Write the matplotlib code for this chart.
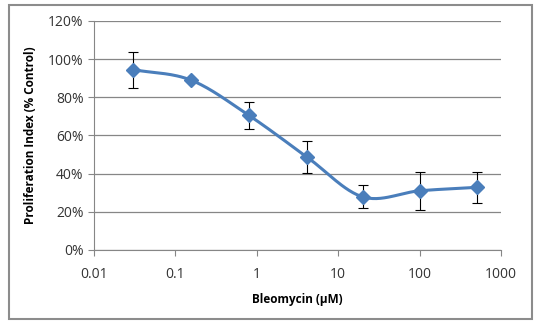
import numpy as np
import matplotlib
matplotlib.use("Agg")
import matplotlib.pyplot as plt
from matplotlib.patches import Rectangle

dose = [0.03, 0.155, 0.8, 4.1, 20, 100, 500]
prolif = [94.5, 89.0, 70.5, 48.8, 27.8, 31.0, 32.8]
err = [9.5, 0.0, 7.0, 8.5, 6.0, 10.0, 8.0]
yticks = [0, 20, 40, 60, 80, 100, 120]
xticks = [0.01, 0.1, 1, 10, 100, 1000]
xticklabels = ["0.01", "0.1", "1", "10", "100", "1000"]

BLUE = "#4A7EBB"
GRAY = "#868686"


def catmull_rom(xs, ys, n=30):
    # smooth curve through points, like Excel's smoothed line
    px = np.concatenate([[2 * xs[0] - xs[1]], xs, [2 * xs[-1] - xs[-2]]])
    py = np.concatenate([[2 * ys[0] - ys[1]], ys, [2 * ys[-1] - ys[-2]]])
    out_x, out_y = [], []
    for i in range(1, len(px) - 2):
        t = np.linspace(0, 1, n)
        for p, out in ((px, out_x), (py, out_y)):
            p0, p1, p2, p3 = p[i - 1], p[i], p[i + 1], p[i + 2]
            out.extend(0.5 * ((2 * p1) + (-p0 + p2) * t
                              + (2 * p0 - 5 * p1 + 4 * p2 - p3) * t ** 2
                              + (-p0 + 3 * p1 - 3 * p2 + p3) * t ** 3))
    return np.array(out_x), np.array(out_y)


plt.rcParams["font.family"] = ["Open Sans", "DejaVu Sans"]

fig = plt.figure(figsize=(5.44, 3.28), dpi=100)
fig.patches.append(Rectangle((0.016, 0.028), 0.962, 0.957, transform=fig.transFigure,
                             fill=False, edgecolor="#8c8c8c", linewidth=1.5))
ax = fig.add_axes([0.173, 0.238, 0.748, 0.698])

lx = np.log10(dose)
sx, sy = catmull_rom(lx, np.array(prolif) / 6.0)
ax.plot(10 ** sx, sy * 6.0, color=BLUE, linewidth=2.2, zorder=3)
ax.errorbar(dose, prolif, yerr=err, fmt="none", ecolor="black", elinewidth=0.8,
            capsize=3.5, capthick=0.8, zorder=2)
ax.plot(dose, prolif, linestyle="none", marker="D", markersize=7,
        color=BLUE, zorder=4)

ax.set_xscale("log")
ax.set_xlim(0.01, 1000)
ax.set_ylim(0, 120)
ax.set_xticks(xticks)
ax.set_xticklabels(xticklabels)
ax.xaxis.set_minor_locator(matplotlib.ticker.NullLocator())
ax.set_yticks(yticks)
ax.set_yticklabels([f"{v}%" for v in yticks])
ax.grid(axis="y", color=GRAY, linewidth=0.9)
ax.set_axisbelow(True)
for s in ["top", "right"]:
    ax.spines[s].set_visible(False)
for s in ["left", "bottom"]:
    ax.spines[s].set_color(GRAY)
ax.tick_params(colors=GRAY, length=4, labelsize=10, labelcolor="#333333")
ax.tick_params(axis="x", pad=8)

ax.set_xlabel("Bleomycin (µM)", fontsize=8.5, fontweight="bold", labelpad=8)
ax.set_ylabel("Proliferation Index (% Control)", fontsize=8.5, fontweight="bold", labelpad=8)

fig.savefig("out.png", dpi=100)
